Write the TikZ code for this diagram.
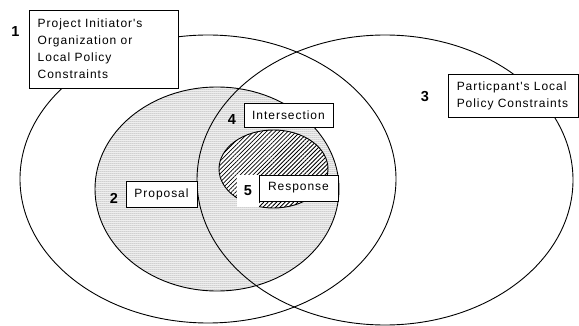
\documentclass[tikz,border=0pt]{standalone}
\usepackage{fontspec}
\setmainfont{Liberation Sans}
\newfontfamily\lblfont[LetterSpace=8]{Liberation Sans}
\usetikzlibrary{patterns.meta}
\tikzdeclarepattern{
  name=finedots,
  type=uncolored,
  bounding box={(-1pt,-1pt) and (1pt,1pt)},
  tile size={(2pt,2pt)},
  code={\fill (0pt,0pt) circle (0.5pt);}
}
\begin{document}
\begin{tikzpicture}[x=1pt,y=-1pt,
  region/.style={draw=black,line width=0.9pt},
  labelbox/.style={draw=black,fill=white,line width=0.9pt,inner sep=0pt},
  labeltext/.style={font=\lblfont\fontsize{12}{17}\selectfont,align=left,inner sep=0pt},
  numlabel/.style={font=\bfseries\fontsize{14.5}{16}\selectfont,inner sep=0pt}]
\useasboundingbox (0,0) rectangle (579,326);
% proposal region (dotted)
\fill[pattern=finedots, pattern color=black!80] (217,189) ellipse [x radius=122pt, y radius=102pt];
% outlines
\draw[region] (208,179) ellipse [x radius=188pt, y radius=144pt];
\draw[region] (385,180) ellipse [x radius=188pt, y radius=145pt];
\draw[region] (217,189) ellipse [x radius=122pt, y radius=102pt];
% response region (hatched)
\fill[white] (273.5,169) ellipse [x radius=54.5pt, y radius=39pt];
\fill[pattern={Lines[angle=45,distance=3pt,line width=0.8pt]}] (273.5,169) ellipse [x radius=54.5pt, y radius=39pt];
\draw[region] (273.5,169) ellipse [x radius=54.5pt, y radius=39pt];
% label boxes
\node[labelbox, minimum width=149pt, minimum height=78pt] (box1) at (103.5,49) {};
\node[labeltext, anchor=west] (text1) at ([xshift=9pt]box1.west) {Project Initiator's\\Organization or\\Local Policy\\Constraints};
\node[numlabel] (n1) at (15.5,31.5) {1};

\node[labelbox, minimum width=130pt, minimum height=43pt] (box3) at (513,95.5) {};
\node[labeltext, anchor=west] (text3) at ([xshift=9pt]box3.west) {Particpant's Local\\Policy Constraints};
\node[numlabel] (n3) at (425,97) {3};

\node[labelbox, minimum width=89pt, minimum height=24pt] (box4) at (288.5,115) {};
\node[labeltext] (text4) at (box4.center) {Intersection};
\node[numlabel] (n4) at (232,120) {4};

\node[labelbox, minimum width=71pt, minimum height=26pt] (box2) at (161.5,194) {};
\node[labeltext] (text2) at (box2.center) {Proposal};
\node[numlabel] (n2) at (114,198) {2};

\node[numlabel, fill=white, minimum width=22pt, minimum height=32pt] (n5) at (248,191) {5};
\node[labelbox, minimum width=79pt, minimum height=26pt] (box5) at (298.5,188) {};
\node[labeltext] (text5) at (box5.center) {Response};
\end{tikzpicture}
\end{document}
